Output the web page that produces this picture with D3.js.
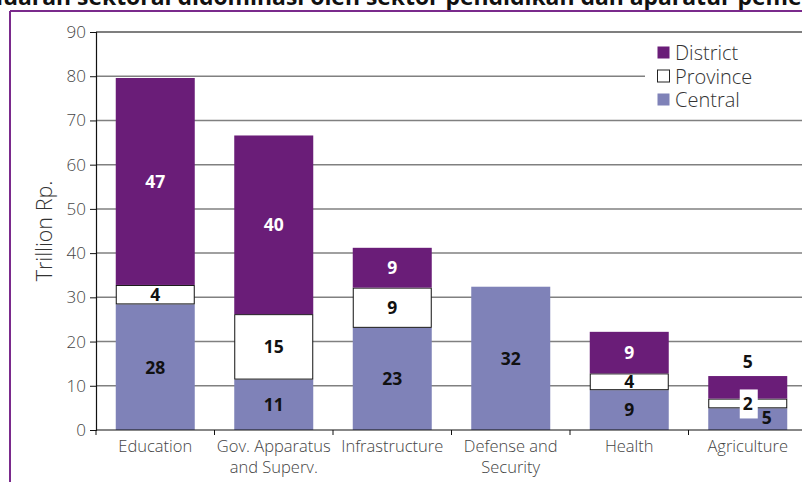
<!DOCTYPE html>
<html><head><meta charset="utf-8">
<script src="https://cdn.jsdelivr.net/npm/d3@7"></script>
<style>html,body{margin:0;padding:0;background:#fff;overflow:hidden}svg{display:block}</style>
</head><body>
<svg id="chart" width="802" height="482"></svg>
<script>
const titleText = "Pengeluaran sektoral didominasi oleh sektor pendidikan dan aparatur pemerintahan";
const categories = ["Education", "Gov. Apparatus\nand Superv.", "Infrastructure", "Defense and\nSecurity", "Health", "Agriculture"];
const central  = [28.4, 11.4, 23.1, 32.4, 9.0, 4.9];
const province = [4.4, 14.8, 9.1, 0, 3.8, 2.2];
const district = [46.8, 40.4, 9.0, 0, 9.4, 5.1];
const seriesNames = ["District", "Province", "Central"];
const yTicks = [0, 10, 20, 30, 40, 50, 60, 70, 80, 90];
const yLabel = "Trillion Rp.";

const colors = {District: "#6a1d78", Province: "#ffffff", Central: "#7f82b8"};
const font = "'Open Sans', 'Segoe UI', sans-serif";
const svg = d3.select("#chart");

// title (cut off at the top of the picture, as in the source)
const title = svg.append("text").attr("y", 5).attr("x", 0)
  .attr("font-family", font).attr("font-weight", 700).attr("font-size", 20)
  .attr("fill", "#111").text(titleText);
{
  const n = title.node();
  const startIdx = 6;                                   // "uaran ..."
  const endIdx = titleText.indexOf("pemerintahan") + 4; // "... peme"
  const w = n.getSubStringLength(startIdx, endIdx - startIdx);
  const fs = 20 * 799 / w;
  title.attr("font-size", fs);
  const pre = n.getSubStringLength(0, startIdx);
  title.attr("x", 3 - pre);
}

// frame
svg.append("line").attr("x1", 10).attr("x2", 802).attr("y1", 11).attr("y2", 11)
  .attr("stroke", "#7a2a8c").attr("stroke-width", 2);
svg.append("line").attr("x1", 10).attr("x2", 10).attr("y1", 11).attr("y2", 482)
  .attr("stroke", "#7a2a8c").attr("stroke-width", 2);

const x = d3.scaleBand().domain(categories).range([96, 807])
  .paddingInner(1/3).paddingOuter(1/6);
const y = d3.scaleLinear().domain([0, 90]).range([430, 32]);

// gridlines
svg.append("g").selectAll("line").data(yTicks.filter(d => d > 0)).join("line")
  .attr("x1", 96).attr("x2", 802).attr("y1", d => y(d)).attr("y2", d => y(d))
  .attr("stroke", d => d === 90 ? "#555" : "#808080").attr("stroke-width", 1.5);

// stacked data
const rows = categories.map((c, i) => ({cat: c, Central: central[i], Province: province[i], District: district[i]}));
const stack = d3.stack().keys(["Central", "Province", "District"])(rows);

const gBars = svg.append("g");
stack.forEach(layer => {
  const isP = layer.key === "Province";
  gBars.append("g").selectAll("rect").data(layer.filter(d => d[1] - d[0] > 0)).join("rect")
    .attr("x", d => x(d.data.cat) + (isP ? 0.5 : 0))
    .attr("width", x.bandwidth() - (isP ? 1 : 0))
    .attr("y", d => y(d[1]) + (isP ? 0.5 : 0))
    .attr("height", d => y(d[0]) - y(d[1]) - (isP ? 1 : 0))
    .attr("fill", colors[layer.key])
    .attr("stroke", isP ? "#111" : "none")
    .attr("stroke-width", 1);
});

// axes
const yAxis = svg.append("g").attr("transform", "translate(96,0)")
  .call(d3.axisLeft(y).tickValues(yTicks).tickSize(6).tickPadding(4));
yAxis.select(".domain").attr("stroke", "#111").attr("stroke-width", 1.2);
yAxis.selectAll(".tick line").attr("stroke", "#111");
yAxis.selectAll(".tick text").attr("font-family", font).attr("font-size", 17)
  .attr("fill", "#444").attr("font-weight", 300);

svg.append("line").attr("x1", 96).attr("x2", 802).attr("y1", y(0)).attr("y2", y(0))
  .attr("stroke", "#111").attr("stroke-width", 1.2);
const step = x.step();
const bounds = d3.range(categories.length + 1).map(i => 96 + i * step);
svg.append("g").selectAll("line").data(bounds).join("line")
  .attr("x1", d => d).attr("x2", d => d).attr("y1", y(0)).attr("y2", y(0) + 5)
  .attr("stroke", "#111");

// x labels
const xl = svg.append("g");
categories.forEach(c => {
  const lines = c.split("\n");
  const t = xl.append("text").attr("x", x(c) + x.bandwidth() / 2).attr("y", 452)
    .attr("text-anchor", "middle").attr("font-family", font).attr("font-size", 16.5)
    .attr("font-weight", 300).attr("fill", "#444");
  lines.forEach((l, i) => t.append("tspan").attr("x", x(c) + x.bandwidth() / 2)
    .attr("dy", i === 0 ? 0 : 21).text(l));
});

// y label
svg.append("text").attr("transform", `translate(52,${y(45)}) rotate(-90)`)
  .attr("text-anchor", "middle").attr("font-family", font).attr("font-size", 21.5)
  .attr("font-weight", 300).attr("fill", "#333").text(yLabel);

// value labels
const lbl = svg.append("g").attr("font-family", font).attr("font-weight", 700)
  .attr("font-size", 17.5).attr("text-anchor", "middle");
const last = categories.length - 1;
stack.forEach(layer => {
  layer.forEach((d, i) => {
    const v = d[1] - d[0];
    if (v <= 0) return;
    let cx = x(d.data.cat) + x.bandwidth() / 2;
    let cy = y((d[0] + d[1]) / 2);
    let fill = layer.key === "District" ? "#fff" : "#111";
    if (i === last) {
      if (layer.key === "District") { cy = y(d[1]) - 14; fill = "#111"; }
      if (layer.key === "Central") { cx += 19; cy = y(d[0]) - 12; }
      if (layer.key === "Province") {
        lbl.append("rect").attr("x", cx - 8).attr("y", cy - 14).attr("width", 18).attr("height", 29).attr("fill", "#fff");
      }
    }
    lbl.append("text").attr("x", cx).attr("y", cy).attr("dy", "0.36em")
      .attr("fill", fill).text(Math.round(v));
  });
});

// legend
const lg = svg.append("g");
lg.append("rect").attr("x", 645).attr("y", 34).attr("width", 160).attr("height", 83).attr("fill", "#fff");
seriesNames.forEach((s, i) => {
  const yy = 53 + i * 23.5;
  lg.append("rect").attr("x", 657.5).attr("y", yy - 6.5).attr("width", 12).attr("height", 12)
    .attr("fill", colors[s]).attr("stroke", s === "Province" ? "#222" : "none");
  lg.append("text").attr("x", 675).attr("y", yy).attr("dy", "0.36em")
    .attr("font-family", font).attr("font-size", 20).attr("font-weight", 300)
    .attr("fill", "#333").text(s);
});
</script>
</body></html>
